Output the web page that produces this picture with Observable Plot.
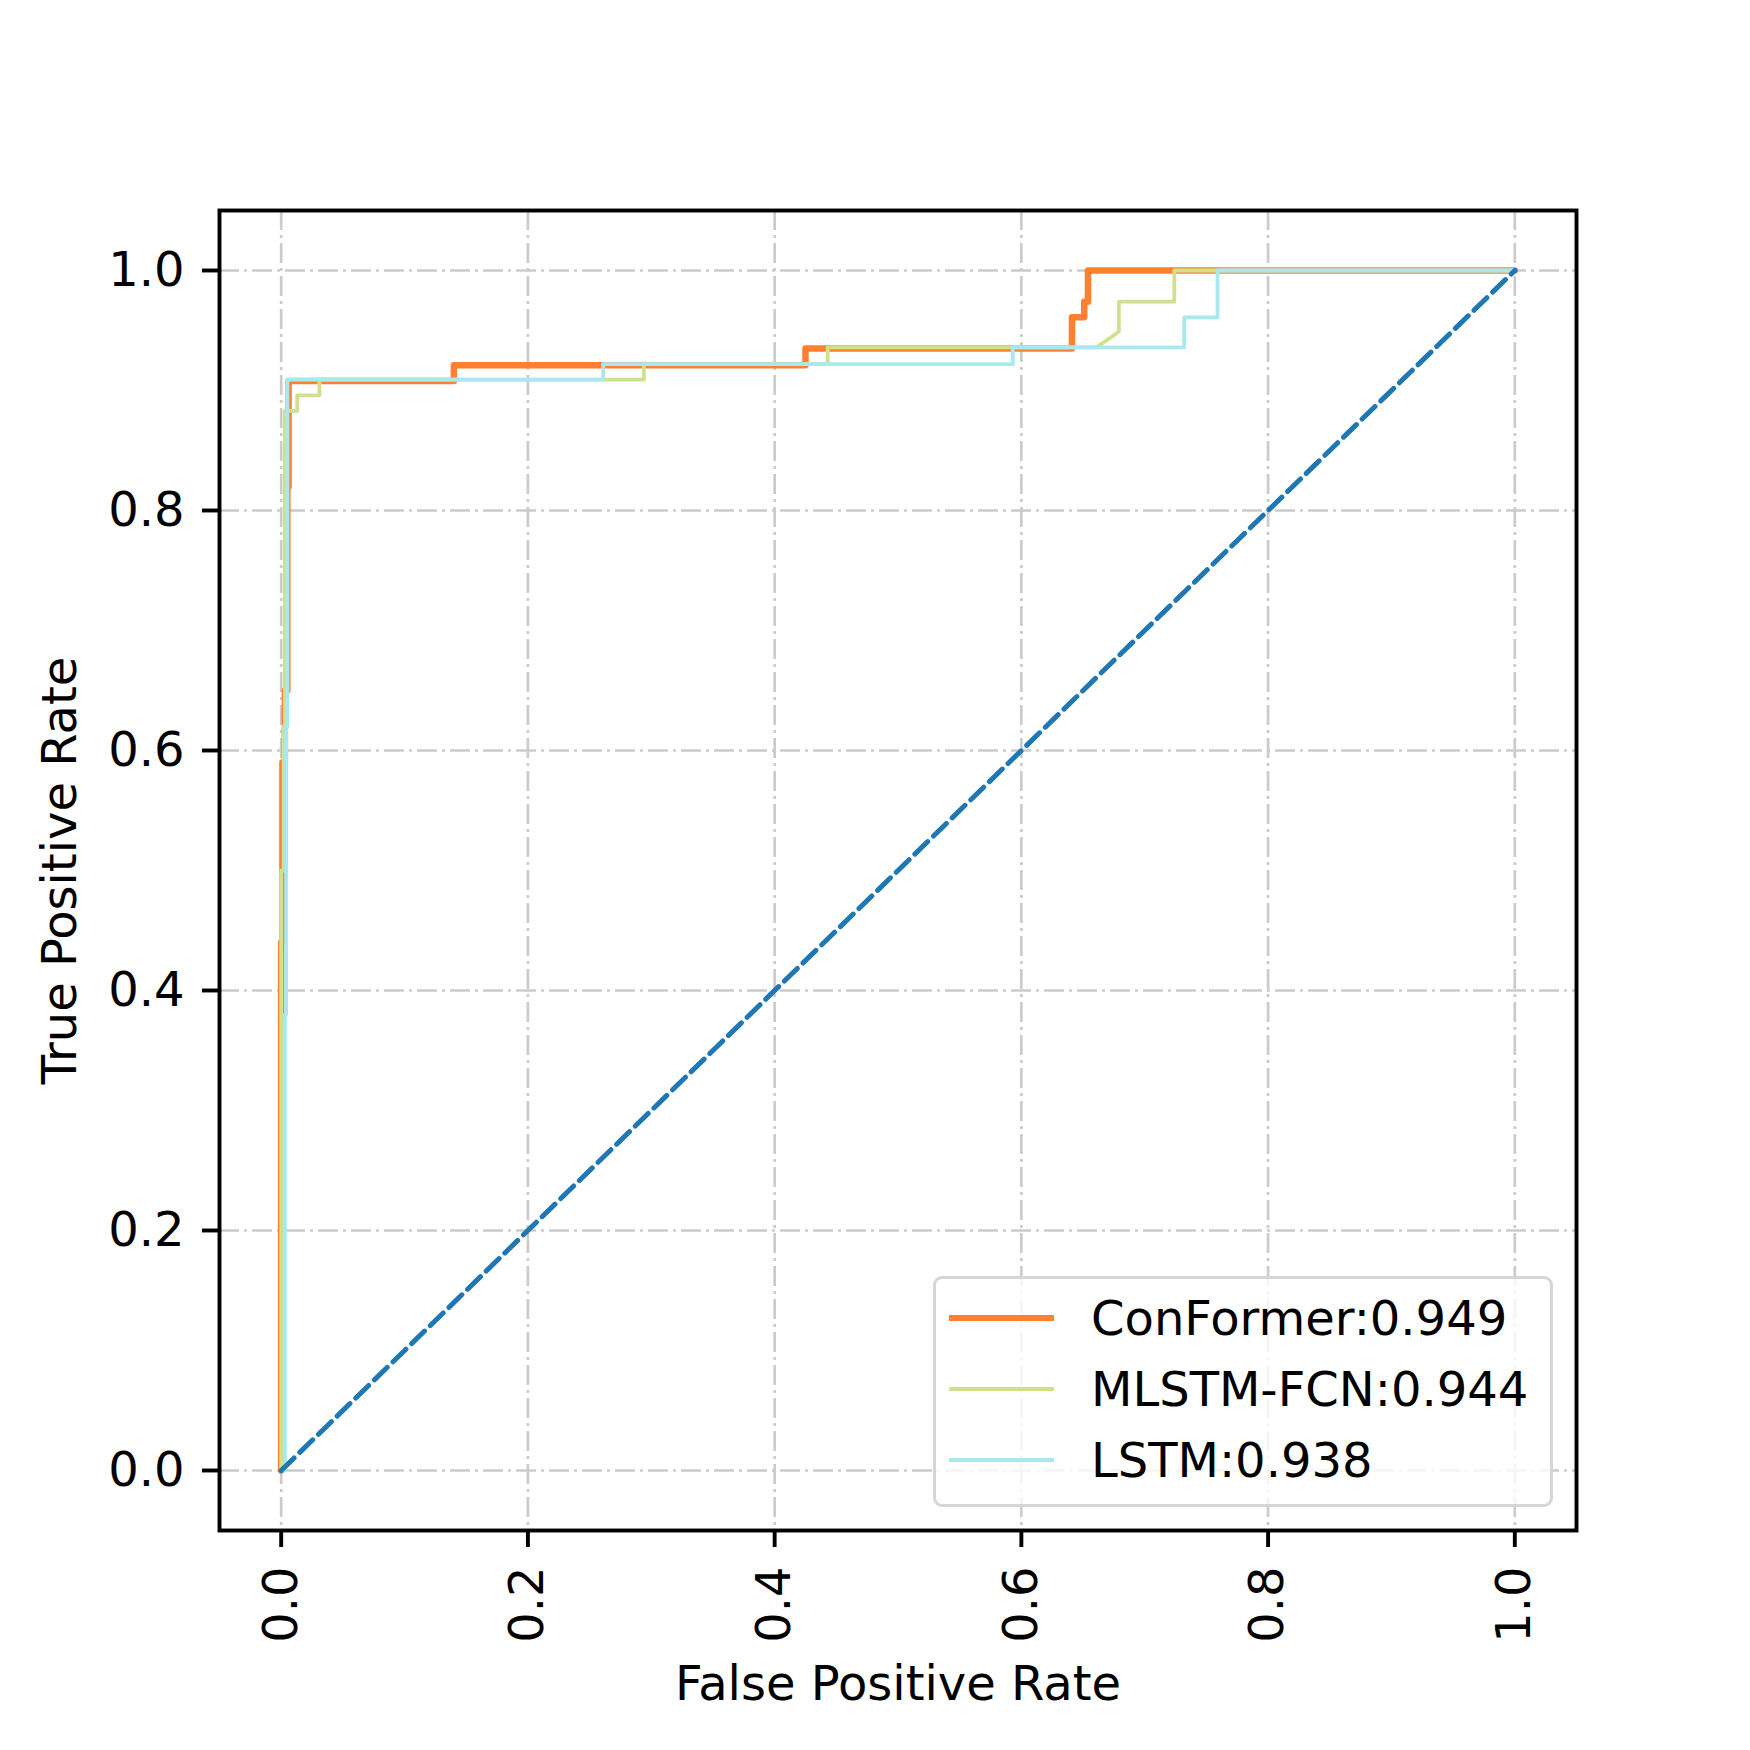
<!DOCTYPE html>
<html>
<head>
<meta charset="utf-8">
<script src="https://cdn.jsdelivr.net/npm/d3@7"></script>
<script src="https://cdn.jsdelivr.net/npm/@observablehq/plot@0.6"></script>
<style>
  html, body { margin: 0; padding: 0; background: #fff; }
  #wrap { position: relative; width: 1750px; height: 1750px; font-family: "DejaVu Sans", sans-serif; }
  #legend { position: absolute; left: 933px; top: 1276px; width: 614px; height: 225px;
    border: 3px solid #d6d6d6; border-radius: 9px; background: rgba(255,255,255,0.8); }
  .row { position: absolute; left: 13px; height: 50px; display: flex; align-items: center; }
  .swatch { width: 105px; margin-right: 37px; }
  .lbl { font-size: 48px; color: #000; white-space: nowrap; line-height: 50px; }
</style>
</head>
<body>
<div id="wrap"></div>
<script>
// ---- data ----
const modelNames = ["ConFormer", "MLSTM-FCN", "LSTM"];
const aucValues = [0.949, 0.944, 0.938];
const modelColors = ["#ff8033", "#d0e08c", "#a7e9ef"];
const modelWidths = [6.5, 3.8, 3.8];

const conformerFPR = [0, 0, 0.001, 0.001, 0.003, 0.003, 0.005, 0.005, 0.006, 0.006, 0.140, 0.140, 0.425, 0.425, 0.641, 0.641, 0.651, 0.651, 0.654, 0.654, 1];
const conformerTPR = [0, 0.44, 0.44, 0.59, 0.59, 0.65, 0.65, 0.82, 0.82, 0.908, 0.908, 0.921, 0.921, 0.935, 0.935, 0.961, 0.961, 0.974, 0.974, 1, 1];

const mlstmFPR = [0, 0, 0.002, 0.002, 0.003, 0.003, 0.013, 0.013, 0.031, 0.031, 0.294, 0.294, 0.443, 0.443, 0.661, 0.679, 0.679, 0.724, 0.724, 1];
const mlstmTPR = [0, 0.50, 0.50, 0.62, 0.62, 0.883, 0.883, 0.896, 0.896, 0.909, 0.909, 0.922, 0.922, 0.936, 0.936, 0.949, 0.974, 0.974, 1, 1];

const lstmFPR = [0, 0.003, 0.003, 0.004, 0.004, 0.005, 0.005, 0.261, 0.261, 0.593, 0.593, 0.732, 0.732, 0.759, 0.759, 1];
const lstmTPR = [0, 0, 0.38, 0.38, 0.62, 0.62, 0.909, 0.909, 0.922, 0.922, 0.936, 0.936, 0.961, 0.961, 1, 1];

const chanceFPR = [0, 1];
const chanceTPR = [0, 1];

const axisTicks = [0, 0.2, 0.4, 0.6, 0.8, 1.0];

// ---- build tables ----
const curves = [
  conformerFPR.map((x, i) => ({x, y: conformerTPR[i]})),
  mlstmFPR.map((x, i) => ({x, y: mlstmTPR[i]})),
  lstmFPR.map((x, i) => ({x, y: lstmTPR[i]}))
];
const chance = chanceFPR.map((x, i) => ({x, y: chanceTPR[i]}));

const gridStyle = {stroke: "#cbcbcb", strokeOpacity: 1, strokeWidth: 2.7, strokeDasharray: "20,5,3,5"};

const chart = Plot.plot({
  width: 1750,
  height: 1750,
  marginLeft: 219,
  marginRight: 174,
  marginTop: 210,
  marginBottom: 220,
  style: {fontFamily: "DejaVu Sans", background: "white", color: "black"},
  x: {domain: [-0.05, 1.05]},
  y: {domain: [-0.05, 1.05]},
  marks: [
    Plot.gridX(axisTicks, gridStyle),
    Plot.gridY(axisTicks, gridStyle),
    ...curves.map((c, i) => Plot.line(c, {x: "x", y: "y", stroke: modelColors[i], strokeWidth: modelWidths[i], strokeLinejoin: "round", curve: "linear"})),
    Plot.line(chance, {x: "x", y: "y", stroke: "#1f77b4", strokeWidth: 5, strokeDasharray: "18,8"}),
    Plot.frame({stroke: "black", strokeWidth: 3.9}),
    Plot.axisX(axisTicks, {
      tickFormat: d3.format(".1f"), tickSize: 17, tickPadding: 19, tickRotate: -90,
      fontSize: 48, strokeWidth: 3.9, stroke: "black",
      label: "False Positive Rate", labelAnchor: "center", labelArrow: "none", labelOffset: 169
    }),
    Plot.axisY(axisTicks, {
      tickFormat: d3.format(".1f"), tickSize: 17, tickPadding: 18,
      fontSize: 48, strokeWidth: 3.9, stroke: "black",
      label: "True Positive Rate", labelAnchor: "center", labelArrow: "none", labelOffset: 178
    })
  ]
});

const wrap = document.getElementById("wrap");
wrap.appendChild(chart);

// legend overlay
const legend = document.createElement("div");
legend.id = "legend";
const rowTops = [14, 85, 156];
modelNames.forEach((name, i) => {
  const row = document.createElement("div");
  row.className = "row";
  row.style.top = rowTops[i] + "px";
  const sw = document.createElement("div");
  sw.className = "swatch";
  sw.style.height = modelWidths[i] + "px";
  sw.style.background = modelColors[i];
  const lb = document.createElement("div");
  lb.className = "lbl";
  lb.textContent = name + ":" + aucValues[i].toFixed(3);
  row.appendChild(sw);
  row.appendChild(lb);
  legend.appendChild(row);
});
wrap.appendChild(legend);
</script>
</body>
</html>
